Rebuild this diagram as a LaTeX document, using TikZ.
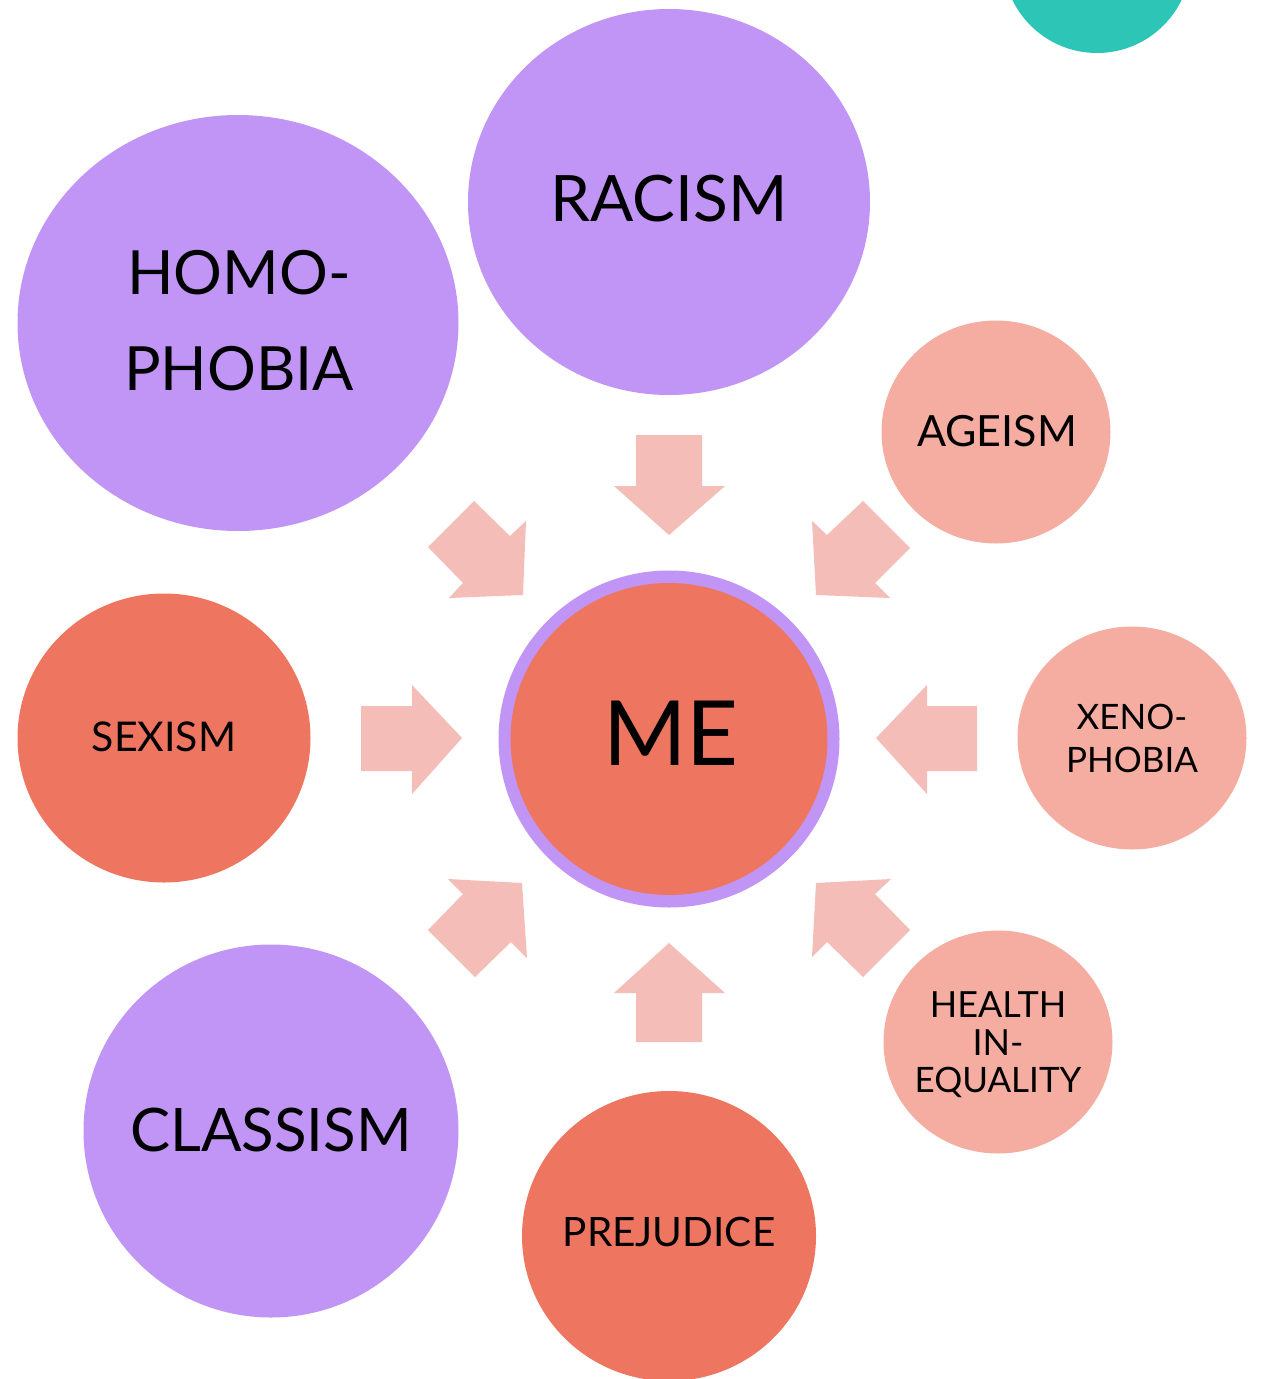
\documentclass[tikz,border=0pt]{standalone}
\usepackage{fontspec}
\setmainfont{Lato}
\usetikzlibrary{shapes.geometric}
\definecolor{lav}{HTML}{C195F6}
\definecolor{coral}{HTML}{EE7661}
\definecolor{salmon}{HTML}{F4ADA0}
\definecolor{arrowpink}{HTML}{F4BDB8}
\definecolor{teal}{HTML}{2DC5B6}
\tikzset{
  blob/.style={ellipse, draw=none, inner sep=0pt},
  lbl/.style={anchor=base, inner sep=0pt, text=black},
  blockarrow/.style={fill=arrowpink, draw=none},
}
\begin{document}
\begin{tikzpicture}[x=1pt,y=-1pt]
\useasboundingbox (0,0) rectangle (1261,1379);
\clip (0,0) rectangle (1261,1379);
\fill[white] (0,0) rectangle (1261,1379);

% teal partial circle
\node[blob, fill=teal, minimum width=188pt, minimum height=188pt] (teal) at (1097,-41) {};

% big purple
\node[blob, fill=lav, minimum width=402pt, minimum height=386pt] (racism) at (669,202) {};
\node[blob, fill=lav, minimum width=441pt, minimum height=416pt] (homo) at (238,323) {};
\node[blob, fill=lav, minimum width=375pt, minimum height=373pt] (classism) at (271,1131) {};

% coral
\node[blob, fill=coral, minimum width=293pt, minimum height=289pt] (sexism) at (164,738) {};
\node[blob, fill=coral, minimum width=294pt, minimum height=290pt] (prejudice) at (669,1236) {};

% salmon
\node[blob, fill=salmon, minimum width=229pt, minimum height=223pt] (ageism) at (996,432) {};
\node[blob, fill=salmon, minimum width=229pt, minimum height=223pt] (xeno) at (1132,738) {};
\node[blob, fill=salmon, minimum width=229pt, minimum height=223pt] (health) at (998,1042) {};

% ME
\node[blob, fill=lav, minimum width=341pt, minimum height=337pt] (meouter) at (669,739) {};
\node[blob, fill=coral, minimum width=317pt, minimum height=312pt] (me) at (669,739) {};

% block arrows
\fill[blockarrow] (636,435) -- (702,435) -- (702,486) -- (725,486) -- (669,535) -- (614,486) -- (636,486) -- cycle;
\fill[blockarrow] (636,1042) -- (702,1042) -- (702,993) -- (725,993) -- (669,943) -- (614,993) -- (636,993) -- cycle;
\fill[blockarrow] (361,706) -- (412,706) -- (412,685) -- (462,738) -- (412,794) -- (412,771) -- (361,771) -- cycle;
\fill[blockarrow] (977,706) -- (927,706) -- (927,685) -- (876,738) -- (927,794) -- (927,771) -- (977,771) -- cycle;
\fill[blockarrow] (428,547) -- (474,501) -- (510,536) -- (526,521) -- (523,595) -- (449,598) -- (463,583) -- cycle;
\fill[blockarrow] (910,548) -- (863,501) -- (827,535) -- (812,521) -- (816,595) -- (890,598) -- (875,583) -- cycle;
\fill[blockarrow] (428,930) -- (463,894) -- (448,879) -- (522,883) -- (527,958) -- (511,942) -- (475,977) -- cycle;
\fill[blockarrow] (910,930) -- (875,894) -- (891,879) -- (816,883) -- (812,957) -- (827,942) -- (863,977) -- cycle;

% labels
\node[lbl, font=\fontsize{64}{64}\selectfont] (tracism) at (669,221) {RACISM};
\node[lbl, font=\fontsize{61}{61}\selectfont] (thomo1) at (239,294) {HOMO-};
\node[lbl, font=\fontsize{61}{61}\selectfont] (thomo2) at (239,390) {PHOBIA};
\node[lbl, font=\fontsize{60}{60}\selectfont] (tclass) at (271,1151) {CLASSISM};
\node[lbl, font=\fontsize{90}{90}\selectfont] (tme) at (671,765) {ME};
\node[lbl, font=\fontsize{43}{43}\selectfont] (tage) at (997,446) {AGEISM};
\node[lbl, font=\fontsize{41}{41}\selectfont] (tsex) at (164,751) {SEXISM};
\node[lbl, font=\fontsize{40.5}{40.5}\selectfont] (tprej) at (669,1246) {PREJUDICE};
\node[lbl, font=\fontsize{35}{35}\selectfont] (txeno1) at (1132,729) {XENO-};
\node[lbl, font=\fontsize{35}{35}\selectfont] (txeno2) at (1132,772) {PHOBIA};
\node[lbl, font=\fontsize{36}{36}\selectfont] (thealth1) at (998,1017) {HEALTH};
\node[lbl, font=\fontsize{36}{36}\selectfont] (thealth2) at (998,1055) {IN-};
\node[lbl, font=\fontsize{35}{35}\selectfont] (thealth3) at (998,1092) {EQUALITY};
\end{tikzpicture}
\end{document}
